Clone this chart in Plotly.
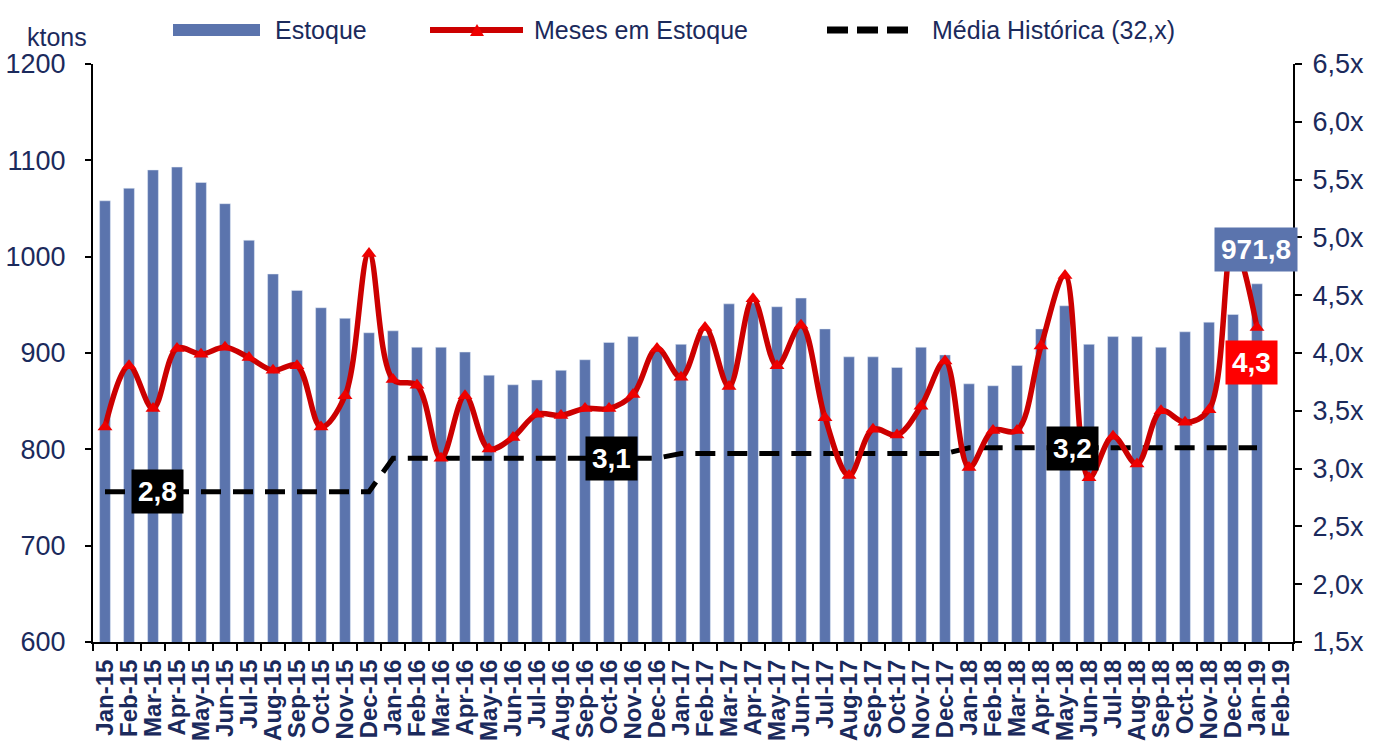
import plotly.graph_objects as go

months = ["Jan-15", "Feb-15", "Mar-15", "Apr-15", "May-15", "Jun-15", "Jul-15", "Aug-15", "Sep-15", "Oct-15", "Nov-15", "Dec-15",
          "Jan-16", "Feb-16", "Mar-16", "Apr-16", "May-16", "Jun-16", "Jul-16", "Aug-16", "Sep-16", "Oct-16", "Nov-16", "Dec-16",
          "Jan-17", "Feb-17", "Mar-17", "Apr-17", "May-17", "Jun-17", "Jul-17", "Aug-17", "Sep-17", "Oct-17", "Nov-17", "Dec-17",
          "Jan-18", "Feb-18", "Mar-18", "Apr-18", "May-18", "Jun-18", "Jul-18", "Aug-18", "Sep-18", "Oct-18", "Nov-18", "Dec-18",
          "Jan-19", "Feb-19"]

estoque = [1058, 1071, 1090, 1093, 1077, 1055, 1017, 982, 965, 947, 936, 921,
           923, 906, 906, 901, 877, 867, 872, 882, 893, 911, 917, 905,
           909, 918, 951, 952, 948, 957, 925, 896, 896, 885, 906, 898,
           868, 866, 887, 925, 949, 909, 917, 917, 906, 922, 932, 940,
           971.8, None]

meses = [3.36, 3.89, 3.52, 4.04, 3.99, 4.05, 3.96, 3.85, 3.89, 3.36, 3.63, 4.86,
         3.77, 3.72, 3.09, 3.63, 3.17, 3.27, 3.47, 3.46, 3.52, 3.52, 3.64, 4.04,
         3.79, 4.22, 3.71, 4.47, 3.89, 4.24, 3.44, 2.94, 3.34, 3.29, 3.54, 3.93,
         3.01, 3.33, 3.33, 4.06, 4.67, 2.92, 3.28, 3.04, 3.50, 3.40, 3.51, 4.95,
         4.22, None]

media = [2.80] * 12 + [3.09] * 12 + [3.13] * 12 + [3.18] * 13 + [None]

y_left_ticks = [600, 700, 800, 900, 1000, 1100, 1200]
y_right_ticks = [1.5, 2.0, 2.5, 3.0, 3.5, 4.0, 4.5, 5.0, 5.5, 6.0, 6.5]
y_right_text = ["1,5x", "2,0x", "2,5x", "3,0x", "3,5x", "4,0x", "4,5x", "5,0x", "5,5x", "6,0x", "6,5x"]

# callout labels: (text, x index, y value, axis, bg colour)
callouts = [("2,8", 2.2, 2.80, "y2", "#000000"),
            ("3,1", 21.1, 3.09, "y2", "#000000"),
            ("3,2", 40.3, 3.17, "y2", "#000000"),
            ("971,8", 47.96, 1007, "y", "#5b74ad"),
            ("4,3", 47.75, 3.92, "y2", "#ff0000")]

NAVY = "#1b2a5c"
BAR = "#5b74ad"
RED_LINE = "#cc0000"
RED_MK = "#ee0000"
FONT = "Liberation Sans, Arial, sans-serif"

fig = go.Figure()
fig.add_trace(go.Bar(x=months, y=estoque, marker_color=BAR, name="Estoque",
                     showlegend=False, yaxis="y"))
fig.add_trace(go.Scatter(x=months, y=media, mode="lines", yaxis="y2", name="Média Histórica (32,x)",
                         line=dict(color="#000000", width=5, dash="20px,12px"),
                         showlegend=False))
fig.add_trace(go.Scatter(x=months, y=meses, mode="lines+markers", yaxis="y2", name="Meses em Estoque",
                         line=dict(color=RED_LINE, width=5.5, shape="spline", smoothing=1.0),
                         marker=dict(symbol="triangle-up", size=13, color=RED_MK,
                                     line=dict(color=RED_MK, width=0)),
                         showlegend=False))

L, R, T, B = 93, 80, 64, 107
W, H = 1373, 749
PW = W - L - R
PH = H - T - B


def px(x):
    return (x - L) / PW


def py(y):
    return (H - B - y) / PH


annotations = []
for text, xi, yv, ax, bg in callouts:
    annotations.append(dict(x=xi, y=yv, xref="x", yref=ax, text="<b>%s</b>" % text, showarrow=False,
                            font=dict(family=FONT, size=28, color="white"), bgcolor=bg,
                            borderpad=6, xanchor="center", yanchor="middle"))

# axis unit label
annotations.append(dict(x=px(25), y=py(37), xref="paper", yref="paper", text="ktons", showarrow=False,
                        xanchor="left", yanchor="middle", font=dict(family=FONT, size=25, color=NAVY)))

# custom legend
legend_texts = [("Estoque", 273), ("Meses em Estoque", 532), ("Média Histórica (32,x)", 930)]
for t, xl in legend_texts:
    annotations.append(dict(x=px(xl), y=py(30), xref="paper", yref="paper", text=t, showarrow=False,
                            xanchor="left", yanchor="middle", font=dict(family=FONT, size=25, color=NAVY)))

shapes = [
    dict(type="rect", xref="paper", yref="paper", x0=px(173), x1=px(260), y0=py(36), y1=py(24),
         fillcolor=BAR, line=dict(width=0)),
    dict(type="line", xref="paper", yref="paper", x0=px(430), x1=px(523), y0=py(30), y1=py(30),
         line=dict(color=RED_LINE, width=6)),
    dict(type="path", xref="paper", yref="paper",
         path="M %f %f L %f %f L %f %f Z" % (px(470), py(36), px(484), py(36), px(477), py(24)),
         fillcolor=RED_MK, line=dict(width=0)),
    dict(type="line", xref="paper", yref="paper", x0=px(827), x1=px(915), y0=py(30), y1=py(30),
         line=dict(color="#000000", width=7, dash="21px,9px")),
]

fig.update_layout(
    width=W, height=H,
    margin=dict(l=L, r=R, t=T, b=B, pad=0, autoexpand=False),
    paper_bgcolor="white", plot_bgcolor="white",
    bargap=0.55,
    font=dict(family=FONT, color=NAVY),
    xaxis=dict(type="category", categoryorder="array", categoryarray=months,
               range=[-0.5, len(months) - 0.5], automargin=False,
               tickmode="array", tickvals=months, ticktext=months,
               tickangle=-90, tickson="boundaries", ticks="outside", ticklen=7, tickwidth=2,
               tickcolor="black", showline=True, linecolor="black", linewidth=2,
               showgrid=False, zeroline=False, ticklabelstandoff=6,
               tickfont=dict(family=FONT, size=24, color=NAVY, weight="bold")),
    yaxis=dict(range=[600, 1200], tickmode="array", tickvals=y_left_ticks, automargin=False,
               ticks="outside", ticklen=6, tickwidth=2, tickcolor="black",
               showline=True, linecolor="black", linewidth=2, showgrid=False, zeroline=False,
               ticklabelstandoff=14,
               tickfont=dict(family=FONT, size=27, color=NAVY)),
    yaxis2=dict(range=[1.5, 6.5], overlaying="y", side="right", tickmode="array",
                tickvals=y_right_ticks, ticktext=y_right_text, automargin=False,
                ticks="outside", ticklen=7, tickwidth=2, tickcolor="black",
                showline=True, linecolor="black", linewidth=2, showgrid=False, zeroline=False,
                ticklabelstandoff=5,
                tickfont=dict(family=FONT, size=27, color=NAVY)),
    annotations=annotations,
    shapes=shapes,
    showlegend=False,
)

fig.write_html("out.html", config={"displayModeBar": False},
               post_script="document.body.style.margin='0';document.body.style.overflow='hidden';")
